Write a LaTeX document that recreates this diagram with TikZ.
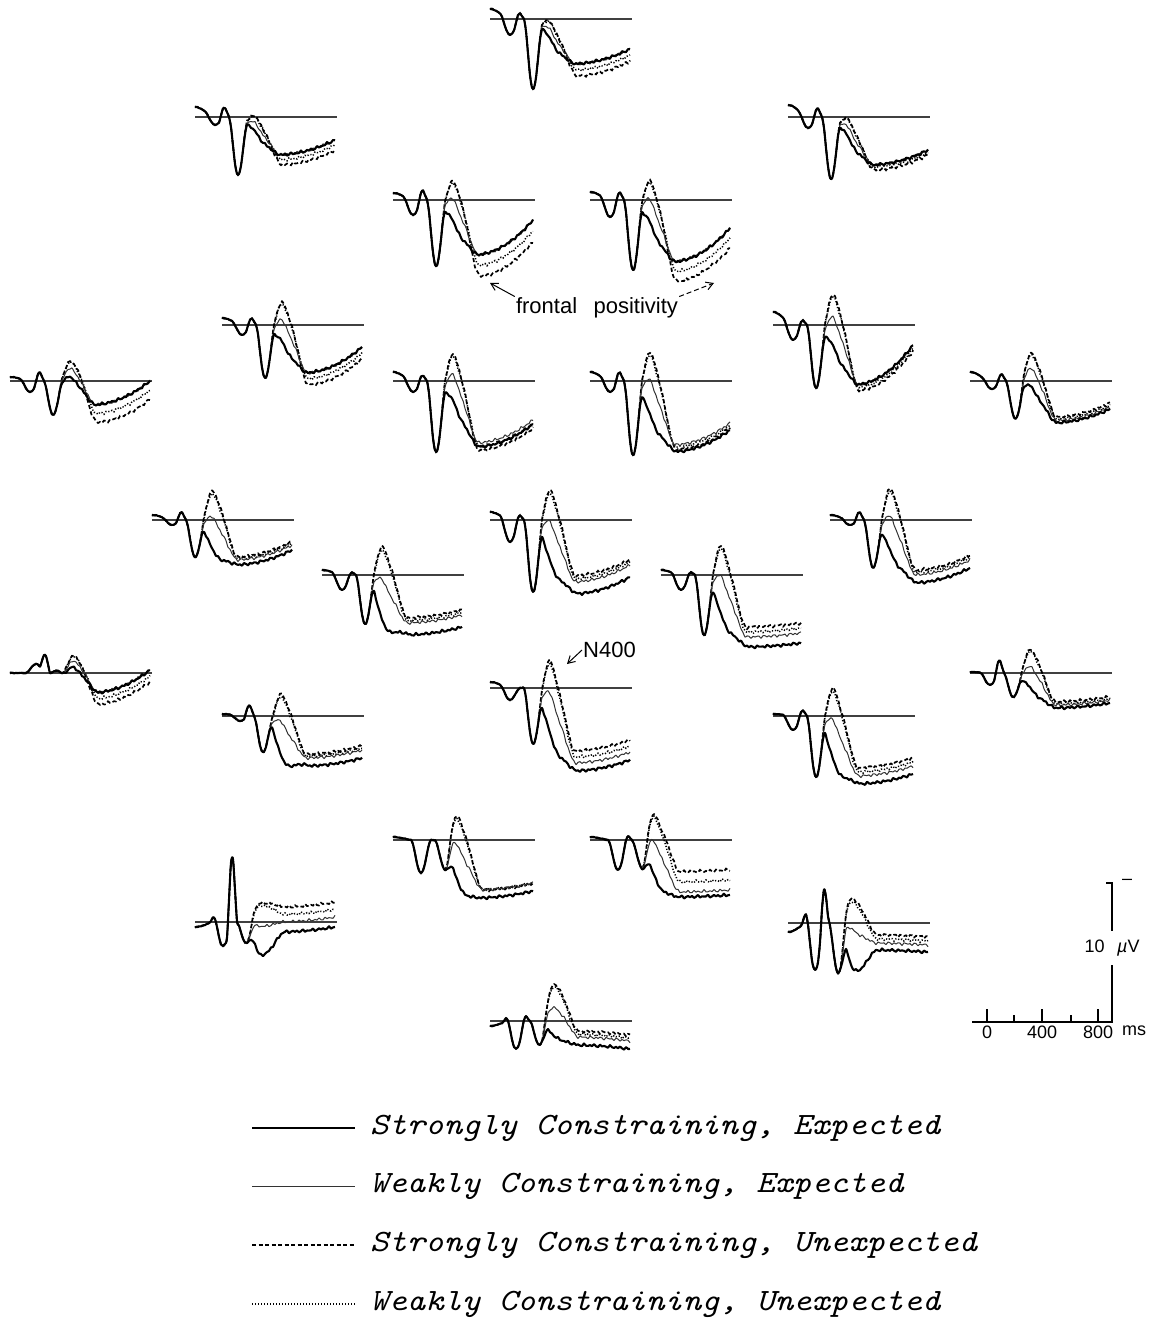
\documentclass[tikz,border=0pt]{standalone}
\usepackage{fontspec}
\setsansfont{Liberation Sans}
\usepackage{graphicx}
\usetikzlibrary{arrows.meta}
\begin{document}
\begin{tikzpicture}[x=1pt, y=-1pt,
  zeroline/.style={line width=1.1pt, black!75},
  seline/.style={line width=2.1pt, line join=round},
  weline/.style={line width=1pt, black!80, line join=round},
  suline/.style={line width=1.7pt, dash pattern=on 4pt off 2.5pt},
  wuline/.style={line width=1.5pt, dash pattern=on 1.2pt off 1.8pt},
  lab/.style={font=\sffamily\fontsize{18}{18}\selectfont, inner sep=0pt},
  flab/.style={font=\sffamily\fontsize{22}{22}\selectfont, inner sep=1pt},
  legtext/.style={font=\ttfamily\itshape\fontsize{31}{31}\selectfont, inner sep=0pt, anchor=west},
  arr/.style={-{Straight Barb[length=7pt, width=8pt]}, line width=1pt},
]
\useasboundingbox (0,0) rectangle (1152,1321);

% electrodes: x0/y0/start/p0/p1/p2/p3/shift/n400/effect/late1/late2/extra SE/extra SU
\foreach \xo/\yo/\sz/\pa/\pb/\pc/\pd/\tsh/\nb/\nef/\lA/\lB/\xs/\xf in {
  490/19/-10/0/16/-6/70/0/13/17.5/45/30/0/12,
  195/117/-10/0/8/-10/58/0/13.4/15.6/38/23/0/10,
  788/117/-12/0/11/-9/62/0/15/18.7/48/33/0/5,
  393/200/-7/0/15/-10/66/0/19/41.4/55/20/0/22,
  590/200/-8/0/17/-8/70/0/22.6/43.3/62/28/0/20,
  222/325/-7/0/10/-7/53/0/18.4/40.8/48/22/0/12,
  773/325/-13/0/15/-5/63/0/23/53.4/60/20/0/6,
  10/381/-4/0/11/-9/34/0/22.2/16.2/24/0/0/18,
  393/381/-9/0/11/-6/71/0/25.6/48.5/62/39/4/8,
  590/381/-9/0/11/-9/74/0/12.7/64.8/64/42/7/5,
  970/381/-9/0/8/-7/37/2/24/34.7/40/26/2/-4,
  152/520/-5/0/5/-8/37/0/0.3/59.5/40/25/5/-3,
  490/520/-8/0/22/-5/72/0/3.4/73.8/62/45/12/-6,
  830/520/-5/0/5/-8/47.5/0/9.5/64.2/55/40/8/-5,
  322/575/-5/0/15/-3/49/0/-10.8/75.9/48/40/12/-5,
  661/575/-5/0/15/-3/60/0/5.25/71.7/62/58/10/-10,
  10/673/0/0/-9/-18/-3/6/21/11.8/20/-3/0/12,
  490/688/-6/0/12/0/55.5/0/8.5/75.7/75/64/8/-12,
  970/673/-1/0/12/-13/24/0/8.8/39.6/32/27/3/-3,
  222/716/-2/0/5/-11/36.5/-2/-9.9/64.2/42/34/8/-4,
  773/716/-2/0/14/-6/61/0/-0.5/74/60/50/8/-8,
  393/840/-3/0/33/0/24.5/8/-4.5/66.5/50/43/8/0,
  590/840/-3/0/30/-4/23/8/1.9/63.4/52/50/5/-20,
  195/922/5/-6/24/-67/21/8/-33/52/0/-5/10/-15,
  788/923/9/-11/47/-35/49/7/-30/70.5/20/22/7/-8,
  490/1021/5/-4/28/-5/23/6/-2.7/52.1/16/20/8/-6}
{
  \draw[zeroline] (\xo,\yo) -- ++(142,0);
  \gdef\ca{}\gdef\cb{}\gdef\cc{}\gdef\cd{}
  \pgfmathsetmacro\ph{mod(\xo*7+\yo*3,360)}
  \foreach \uu in {0,2,...,140} {
    \pgfmathsetmacro\bs{(\sz)*max(0,1-(\uu/20)^2)^2
      + (\pa)*max(0,1-((\uu-12-(\tsh))/6.2)^2)^2
      + (\pb)*max(0,1-((\uu-20-(\tsh))/10)^2)^2
      + (\pc)*max(0,1-((\uu-29-(\tsh))/5.4)^2)^2
      + (\pd)*max(0,1-((\uu-43-(\tsh))/9.2)^2)^2}
    \pgfmathsetmacro\gn{max(0,1-((\uu-62-0.5*(\tsh))/(14+10*(\uu>62+0.5*(\tsh))))^2)^2}
    \pgfmathsetmacro\sga{max(0,min(1,(\uu-42-0.5*(\tsh))/28))}
    \pgfmathsetmacro\sgb{max(0,min(1,(\uu-66)/24))}
    \pgfmathsetmacro\bt{\yo+\bs+((\lA)+((\lB)-(\lA))*(max(\uu-80,0)/60)^2)*\sga*\sga*(3-2*\sga)}
    \pgfmathsetmacro\et{\sgb*\sgb*(3-2*\sgb)}
    \pgfmathsetmacro\jt{0.3+0.8*\sga}
    \pgfmathsetmacro\ya{\bt-((\nb)+0.95*(\nef))*\gn+0.5*(\xf)*\et+\jt*(sin(\uu*68.75+\ph)+0.6*sin(\uu*41.5+\ph))}
    \pgfmathsetmacro\yb{\bt-((\nb)+(\nef))*\gn+(\xf)*\et+\jt*(sin(\uu*68.75+\ph+90)+0.6*sin(\uu*41.5+\ph+200))}
    \pgfmathsetmacro\yc{\bt-((\nb)+0.55*(\nef))*\gn+\jt*(sin(\uu*68.75+\ph+180)+0.6*sin(\uu*41.5+\ph+40))}
    \pgfmathsetmacro\yd{\bt-(\nb)*\gn+(\xs)*\et+\jt*(sin(\uu*68.75+\ph+270)+0.6*sin(\uu*41.5+\ph+300))}
    \pgfmathsetmacro\xx{\xo+\uu}
    \xdef\ca{\ca(\xx,\ya)}
    \xdef\cb{\cb(\xx,\yb)}
    \xdef\cc{\cc(\xx,\yc)}
    \xdef\cd{\cd(\xx,\yd)}
  }
  \edef\tmp{\noexpand\draw[wuline] plot[smooth, tension=0.5] coordinates {\ca};
    \noexpand\draw[suline] plot[smooth, tension=0.5] coordinates {\cb};
    \noexpand\draw[weline] plot[smooth, tension=0.5] coordinates {\cc};
    \noexpand\draw[seline] plot[smooth, tension=0.5] coordinates {\cd};}
  \tmp
}

% labels
\node[flab] (fptext) at (597,308) {frontal\hspace{0.75em}positivity};
\coordinate (fpl) at (490,283);
\coordinate (fpr) at (714,283);
\draw[arr] (fptext.north west) -- (fpl);
\draw[arr, dash pattern=on 5pt off 3pt] (fptext.north east) -- (fpr);

\node[flab, anchor=west] (ntext) at (582,650) {N400};
\coordinate (npk) at (567,664);
\draw[arr] (ntext.west) -- (npk);

% scale bar
\coordinate (vtop) at (1112,883);
\coordinate (vbot) at (1112,1022);
\coordinate (hleft) at (972,1022);
\coordinate (vtick) at (1106,883);
\node[lab, inner ysep=9pt] (uv) at (1112,948) {10\hspace{0.7em}\textit{µ}V};
\node[lab] (neg) at (1127,882) {–};
\draw[line width=1.1pt] (vtick) -- (vtop) -- (uv.north);
\draw[line width=1.1pt] (uv.south) -- (vbot) -- (hleft);
\foreach \tx/\th in {987/13, 1014/7, 1042/13, 1071/7, 1098/13}
  \draw[line width=1.1pt] (\tx,1022) -- ++(0,-\th);
\node[lab, anchor=north] (t0) at (987,1026) {0};
\node[lab, anchor=north] (t400) at (1042,1026) {400};
\node[lab, anchor=north] (t800) at (1098,1026) {800};
\node[lab, anchor=north] (tms) at (1134,1026) {ms};

% legend
\foreach \ly/\sty/\txt in {
  1128/seline/{Strongly Constraining, Expected},
  1186/weline/{Weakly Constraining, Expected},
  1245/suline/{Strongly Constraining, Unexpected},
  1304/wuline/{Weakly Constraining, Unexpected}}
{
  \coordinate (la\ly) at (252,\ly);
  \coordinate (lb\ly) at (355,\ly);
  \draw[\sty] (la\ly) -- (lb\ly);
  \node[legtext] (lt\ly) at (370,\ly) {\scalebox{1.13}[1]{\txt}};
}
\end{tikzpicture}
\end{document}
